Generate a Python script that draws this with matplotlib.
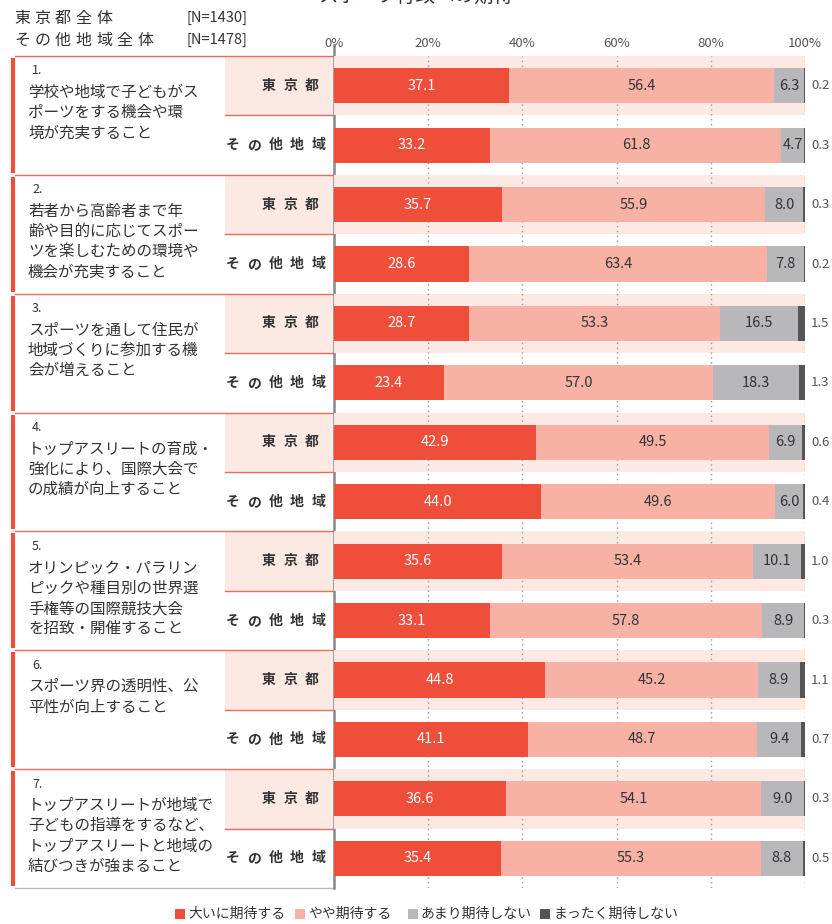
import numpy as np
import matplotlib
matplotlib.use("Agg")
import matplotlib.pyplot as plt
from matplotlib.patches import Rectangle

plt.rcParams['font.family'] = ['Noto Sans CJK JP', 'DejaVu Sans']

# data
items = [
    "学校や地域で子どもがス\nポーツをする機会や環\n境が充実すること",
    "若者から高齢者まで年\n齢や目的に応じてスポー\nツを楽しむための環境や\n機会が充実すること",
    "スポーツを通して住民が\n地域づくりに参加する機\n会が増えること",
    "トップアスリートの育成・\n強化により、国際大会で\nの成績が向上すること",
    "オリンピック・パラリン\nピックや種目別の世界選\n手権等の国際競技大会\nを招致・開催すること",
    "スポーツ界の透明性、公\n平性が向上すること",
    "トップアスリートが地域で\n子どもの指導をするなど、\nトップアスリートと地域の\n結びつきが強まること",
]
groups = ["東京都", "その他地域"]
legend_labels = ["大いに期待する", "やや期待する", "あまり期待しない", "まったく期待しない"]

tokyo_very = [37.1, 35.7, 28.7, 42.9, 35.6, 44.8, 36.6]
tokyo_some = [56.4, 55.9, 53.3, 49.5, 53.4, 45.2, 54.1]
tokyo_little = [6.3, 8.0, 16.5, 6.9, 10.1, 8.9, 9.0]
tokyo_none = [0.2, 0.3, 1.5, 0.6, 1.0, 1.1, 0.3]

other_very = [33.2, 28.6, 23.4, 44.0, 33.1, 41.1, 35.4]
other_some = [61.8, 63.4, 57.0, 49.6, 57.8, 48.7, 55.3]
other_little = [4.7, 7.8, 18.3, 6.0, 8.9, 9.4, 8.8]
other_none = [0.3, 0.2, 1.3, 0.4, 0.3, 0.7, 0.5]

colors = ["#EF4E3A", "#F7B2A5", "#B8B8BB", "#555555"]
band = "#FCE9E3"
red_line = "#EE6A5A"

# interleave rows: tokyo, other for each item
rows = []
for i in range(7):
    rows.append([tokyo_very[i], tokyo_some[i], tokyo_little[i], tokyo_none[i]])
    rows.append([other_very[i], other_some[i], other_little[i], other_none[i]])
rows = np.array(rows)
n = len(rows)

W, H = 832, 924
fig = plt.figure(figsize=(W / 100, H / 100), dpi=100)

# background axes in pixel coords for the left panel
bg = fig.add_axes([0, 0, 1, 1])
bg.set_xlim(0, W)
bg.set_ylim(H, 0)
bg.axis("off")

top, bottom = 56, 888
row_h = (bottom - top) / n
x0, x1 = 334, 805


def spaced(x, yy, s, step, **kw):
    # draw chars one by one with wide letter spacing
    for j, ch in enumerate(s):
        bg.text(x + j * step, yy, ch, ha="center", va="center", **kw)


fig.text(0.5, 1 - 8 / H, "スポーツ行政への期待", ha="center", va="bottom",
         fontsize=14, color="#333333")
spaced(22, 18, "東京都全体", 20.5, fontsize=11.5, color="#333333")
spaced(22, 40, "その他地域全体", 20.5, fontsize=11.5, color="#333333")
bg.text(187, 18, "[N=1430]", fontsize=10.5, color="#333333", va="center")
bg.text(187, 40, "[N=1478]", fontsize=10.5, color="#333333", va="center")

for g in range(7):
    gt = top + g * 2 * row_h
    gm = gt + row_h
    gb = gt + 2 * row_h
    # tokyo label cell
    bg.add_patch(Rectangle((225, gt), x0 - 225, row_h, facecolor=band, edgecolor="none"))
    bg.plot([225, x0], [gm, gm], color=red_line, lw=1)
    bg.plot([15, x0], [gt, gt], color=red_line, lw=1)
    bg.plot([13, 13], [gt + 2, gb - 2], color="#EF4E3A", lw=3, solid_capstyle="butt")
    bg.text(32, gt + 15, f"{g + 1}.", fontsize=9, color="#333333", va="center")
    bg.text(28, gt + 28, items[g], fontsize=11.2, color="#333333", va="top",
            linespacing=1.25)
    spaced(269, gt + row_h / 2, groups[0], 21.5, fontsize=10, fontweight="bold",
           color="#333333")
    spaced(233, gm + row_h / 2, groups[1], 21.3, fontsize=10, fontweight="bold",
           color="#333333")
bg.plot([15, x0], [bottom, bottom], color="#BBBBBB", lw=1)
bg.plot([x0, x0], [45, bottom], color="#888888", lw=1.8)

# bar axes
ax = fig.add_axes([x0 / W, (H - bottom) / H, (x1 - x0) / W, (bottom - top) / H])
ax.set_xlim(0, 100)
ax.set_ylim(n, 0)
ax.patch.set_alpha(0)
for s in ax.spines.values():
    s.set_visible(False)
ax.set_yticks([])
ax.xaxis.tick_top()
ax.set_xticks([0, 20, 40, 60, 80, 100])
ax.set_xticklabels(["0%", "20%", "40%", "60%", "80%", "100%"], fontsize=9.5, color="#555555")
ax.tick_params(axis="x", length=0, pad=4)

for i in range(0, n, 2):
    ax.axhspan(i, i + 1, color=band, zorder=0, lw=0)
for gx in [20, 40, 60, 80, 100]:
    ax.axvline(gx, color="#999999", lw=1, ls=(0, (1, 2.5)), zorder=1)

y = np.arange(n) + 0.5
left = np.zeros(n)
for k in range(4):
    ax.barh(y, rows[:, k], left=left, height=0.59, color=colors[k], zorder=2, lw=0)
    for i in range(n):
        v = rows[i, k]
        if k == 3:
            ax.text(101.3, y[i], f"{v:.1f}", fontsize=9.5, color="#555555",
                    va="center", ha="left")
        else:
            ax.text(left[i] + v / 2, y[i], f"{v:.1f}", fontsize=10.5,
                    color="white" if k == 0 else "#333333", ha="center", va="center", zorder=3)
    left += rows[:, k]

# legend
leg_x = [175, 295, 408, 540]
for k in range(4):
    bg.add_patch(Rectangle((leg_x[k], 909), 10, 10, facecolor=colors[k], edgecolor="none"))
    bg.text(leg_x[k] + 13, 914, legend_labels[k], fontsize=10, color="#333333", va="center")

fig.savefig("out.png", dpi=100)
